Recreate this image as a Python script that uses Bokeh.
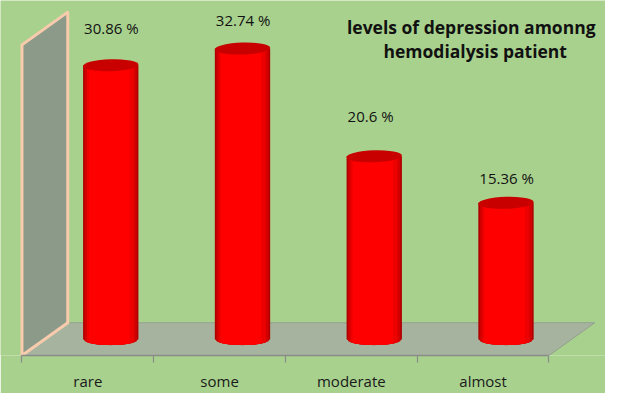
import numpy as np
from bokeh.plotting import figure
from bokeh.models import Range1d, LinearAxis, FixedTicker
from bokeh.embed import file_html
from bokeh.resources import INLINE
from bokeh.core.properties import value

# ---------------- data ----------------
categories = ["rare", "some", "moderate", "almost"]
percentages = [30.86, 32.74, 20.6, 15.36]
value_labels = ["30.86 %", "32.74 %", "20.6 %", "15.36 %"]
title_lines = ["levels of depression amonng", "hemodialysis patient"]
axis_max = 35

# ---------------- styling / layout ----------------
GREEN = "#A9D18E"
FONT = "Open Sans"
W, H = 605, 393
BOTTOM = 38
frame_h = H - BOTTOM
X0, X1 = -0.163, 4.429
Y0, Y1 = 0.0, 40.0
px_y = frame_h / (Y1 - Y0)
DX, DY = 0.3475, 3.69          # 3-D depth vector (data units)
BAR_W = 0.42
ELL_H = 12                     # ellipse height in px
label_nudge = [-37, -29, -40, -25]

p = figure(width=W, height=H, x_range=Range1d(X0, X1), y_range=Range1d(Y0, Y1),
           x_axis_location=None, y_axis_location=None,
           toolbar_location=None, output_backend="svg",
           min_border_left=0, min_border_right=0, min_border_top=0,
           min_border_bottom=BOTTOM)
for g in p.grid:
    g.visible = False
p.background_fill_color = GREEN
p.border_fill_color = GREEN
p.outline_line_color = None

n = len(categories)

# category axis
ax = LinearAxis(ticker=FixedTicker(ticks=[i + 0.5 for i in range(n)],
                                   minor_ticks=list(range(n + 1))))
ax.major_label_overrides = {i + 0.5: c for i, c in enumerate(categories)}
ax.bounds = (0, n)
ax.axis_line_color = "#8A8A8A"
ax.axis_line_width = 1.5
ax.major_tick_line_color = None
ax.major_tick_out = 7
ax.major_tick_in = 0
ax.minor_tick_line_color = "#8A8A8A"
ax.minor_tick_line_width = 1.2
ax.minor_tick_out = 7
ax.minor_tick_in = 0
ax.major_label_standoff = 8
ax.major_label_text_font = FONT
ax.major_label_text_font_size = "15px"
ax.major_label_text_color = "#1A1A1A"
p.add_layout(ax, "below")

# floor
p.patch(x=[0, n, n + DX, DX], y=[0, 0, DY, DY],
        fill_color="#A6B49F", line_color="#939F8F", line_width=1)
# side wall
p.patch(x=[0, DX, DX, 0], y=[0, DY, axis_max + DY, axis_max],
        fill_color="#8C9A89", line_color="#F8CBAD", line_width=3,
        line_join="round")

# cylinders
base = DY / 2
centers = [i + 0.5 + DX / 2 for i in range(n)]
b = (ELL_H / 2) / px_y
strips = [(0.0, 1.0, "#B00000"), (0.03, 0.97, "#D20000"),
          (0.07, 0.92, "#EC0000"), (0.11, 0.84, "#FF0000")]
for f0, f1, col in strips:
    xs, ys = [], []
    for cx, v in zip(centers, percentages):
        u0, u1 = 2 * f0 - 1, 2 * f1 - 1
        uu = np.linspace(u1, u0, 16)
        bx = list(cx + uu * BAR_W / 2)
        by = list(base - b * np.sqrt(np.clip(1 - uu ** 2, 0, 1)))
        xs.append([cx + u0 * BAR_W / 2, cx + u1 * BAR_W / 2] + bx)
        ys.append([base + v, base + v] + by)
    p.patches(xs=xs, ys=ys, fill_color=col, line_color=None)

tops = [base + v for v in percentages]
p.ellipse(x=centers, y=tops, width=BAR_W, height=ELL_H, height_units="screen",
          angle=0.03, fill_color="#C80000", line_color=None)

# value labels
p.text(x=[c - BAR_W / 2 for c in centers], y=tops, text=value_labels,
       x_offset=1, y_offset=label_nudge,
       text_align="left", text_baseline="middle",
       text_font=value(FONT), text_font_size="15px", text_color="#111111")

# title
p.text(x=[3.41, 3.44], y=[37.0, 34.3], text=title_lines,
       text_align="center", text_baseline="middle",
       text_font=value(FONT), text_font_style="bold",
       text_font_size="17.5px", text_color="#111111")

open("out.html", "w").write(file_html(p, INLINE))
